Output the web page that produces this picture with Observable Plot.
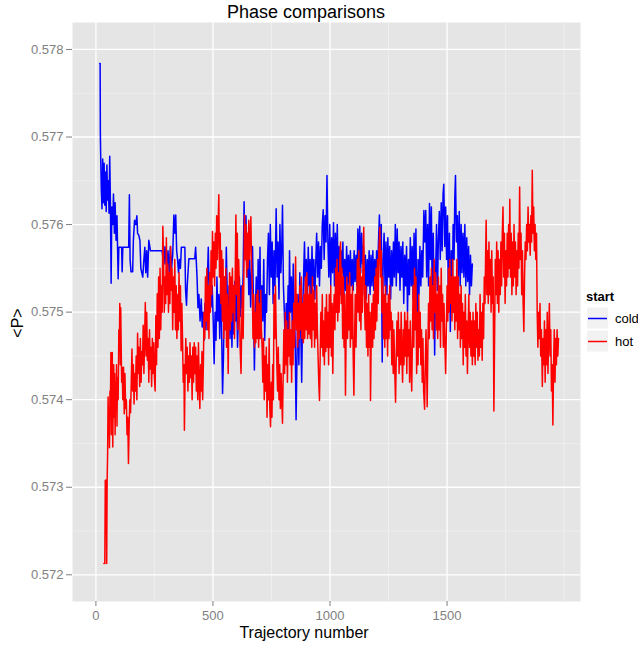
<!DOCTYPE html>
<html><head><meta charset="utf-8">
<script src="https://cdn.jsdelivr.net/npm/d3@7"></script>
<script src="https://cdn.jsdelivr.net/npm/@observablehq/plot@0.6"></script>
<style>body{margin:0;background:#fff} svg{display:block}</style>
</head><body><div id="chart"></div>
<script>
// [trajectory number, <P>] for the "cold" start
const coldPts = [
[16,.57784],[18,.57784],[19,.57704],[20,.57685],[23,.57640],[26,.57618],[29,.57675],[32,.57625],[35,.57670],[38,.57622],
[41,.57660],[44,.57615],[47,.57668],[50,.57628],[53,.57650],[56,.57613],[59,.57678],[62,.57625],[65,.57533],[68,.57620],
[72,.57600],[75,.57635],[79,.57590],[82,.57625],[86,.57582],[90,.57610],[95,.57538],[98,.57574],[110,.57574],[112,.57546],
[115,.57574],[140,.57574],[143,.57634],[146,.57560],[150,.57546],[157,.57546],[160,.57582],[165,.57605],[170,.57600],[175,.57610],
[178,.57590],[183,.57588],[188,.57582],[192,.57550],[196,.57545],[200,.57540],[205,.57560],[209,.57574],[213,.57545],[217,.57570],
[221,.57540],[226,.57582],[233,.57570],[283,.57570],[287,.57560],[291,.57575],[295,.57555],[299,.57574],[304,.57555],[308,.57570],
[313,.57545],[318,.57575],[323,.57550],[328,.57565],[333,.57611],[337,.57590],[341,.57611],[345,.57570],[349,.57560],[353,.57545],
[357,.57560],[361,.57550],[365,.57574],[380,.57574],[383,.57525],[387,.57508],[390,.57530],[397,.57561],[422,.57561],[426,.57574],
[432,.57540],[436,.57505],[440,.57520],[445,.57490],[450,.57515],[454,.57483],[458,.57500],[462,.57468],[466,.57510],[470,.57480],
[475,.57525],[480,.57574],[484,.57520],[488,.57545],[492,.57506],[497,.57530],[501,.57490],[505,.57441],[509,.57500],[513,.57468],
[517,.57540],[521,.57490],[525,.57520],[529,.57470],[533,.57535],[537,.57480],[541,.57407],[545,.57450],[549,.57540],[553,.57500],
[557,.57574],[561,.57520],[565,.57487],[569,.57530],[573,.57470],[577,.57525],[581,.57460],[585,.57510],[589,.57475],[593,.57535],
[597,.57490],[601,.57520],[605,.57460],[609,.57500],[613,.57540],[617,.57495],[621,.57530],[625,.57505],[629,.57545],[633,.57626],
[637,.57560],[641,.57610],[645,.57540],[649,.57580],[653,.57520],[657,.57560],[661,.57506],[665,.57545],[669,.57575],[673,.57510],
[677,.57434],[681,.57500],[685,.57540],[689,.57480],[693,.57560],[697,.57500],[701,.57574],[705,.57470],[709,.57530],[713,.57490],
[717,.57560],[721,.57468],[725,.57520],[729,.57500],[733,.57560],[737,.57590],[741,.57520],[745,.57600],[749,.57540],[753,.57580],
[757,.57510],[761,.57570],[765,.57530],[770,.57618],[774,.57540],[778,.57580],[782,.57515],[786,.57600],[790,.57545],[794,.57575],
[797,.57622],[801,.57530],[805,.57500],[809,.57460],[813,.57510],[817,.57480],[821,.57530],[824,.57470],[827,.57570],[831,.57500],
[835,.57540],[839,.57480],[843,.57555],[847,.57500],[851,.57470],[855,.57377],[859,.57450],[863,.57520],[867,.57440],[871,.57545],
[875,.57480],[879,.57420],[883,.57500],[887,.57540],[891,.57580],[895,.57520],[899,.57560],[903,.57510],[907,.57574],[911,.57530],
[915,.57560],[919,.57510],[923,.57575],[927,.57530],[931,.57560],[935,.57515],[939,.57555],[943,.57590],[947,.57540],[951,.57580],
[955,.57530],[959,.57575],[963,.57550],[967,.57600],[971,.57617],[975,.57560],[979,.57610],[983,.57580],[987,.57656],[991,.57580],
[995,.57540],[999,.57600],[1003,.57530],[1007,.57585],[1011,.57545],[1015,.57602],[1019,.57530],[1023,.57590],[1027,.57540],[1031,.57600],
[1035,.57530],[1039,.57575],[1043,.57520],[1047,.57570],[1051,.57545],[1055,.57580],[1059,.57515],[1063,.57560],[1067,.57525],[1071,.57575],
[1075,.57530],[1079,.57565],[1083,.57525],[1087,.57570],[1091,.57530],[1095,.57560],[1099,.57525],[1103,.57570],[1107,.57535],[1111,.57565],
[1115,.57530],[1119,.57595],[1123,.57550],[1127,.57598],[1131,.57545],[1135,.57590],[1139,.57555],[1143,.57575],[1147,.57520],[1151,.57565],
[1155,.57515],[1159,.57560],[1163,.57530],[1167,.57570],[1171,.57520],[1175,.57565],[1179,.57530],[1183,.57570],[1187,.57525],[1191,.57560],
[1195,.57530],[1199,.57570],[1203,.57540],[1207,.57580],[1211,.57611],[1215,.57560],[1219,.57600],[1223,.57443],[1227,.57560],[1231,.57590],
[1235,.57530],[1239,.57580],[1243,.57520],[1247,.57585],[1251,.57540],[1255,.57575],[1259,.57515],[1263,.57570],[1267,.57530],[1271,.57580],
[1275,.57540],[1279,.57600],[1283,.57530],[1287,.57595],[1291,.57545],[1295,.57580],[1299,.57525],[1303,.57575],[1307,.57540],[1311,.57580],
[1315,.57510],[1319,.57565],[1323,.57530],[1327,.57575],[1331,.57500],[1335,.57560],[1339,.57520],[1343,.57585],[1347,.57530],[1351,.57575],
[1355,.57515],[1359,.57590],[1363,.57540],[1367,.57595],[1372,.57453],[1376,.57560],[1380,.57520],[1384,.57575],[1388,.57530],[1392,.57570],
[1396,.57540],[1401,.57616],[1405,.57580],[1409,.57616],[1413,.57540],[1417,.57600],[1421,.57530],[1425,.57624],[1429,.57560],[1433,.57620],
[1437,.57505],[1441,.57590],[1444,.57530],[1447,.57451],[1451,.57540],[1455,.57600],[1459,.57525],[1463,.57585],[1467,.57615],[1471,.57560],
[1475,.57625],[1479,.57570],[1483,.57635],[1486,.57646],[1490,.57575],[1494,.57620],[1498,.57560],[1502,.57610],[1506,.57500],[1510,.57590],
[1514,.57478],[1518,.57570],[1522,.57520],[1526,.57600],[1530,.57560],[1533,.57630],[1536,.57656],[1540,.57580],[1544,.57610],[1548,.57540],
[1552,.57615],[1556,.57530],[1560,.57600],[1564,.57545],[1568,.57590],[1572,.57540],[1576,.57600],[1580,.57530],[1584,.57585],[1588,.57535],
[1592,.57575],[1596,.57520],[1600,.57565],[1604,.57530],[1608,.57555]
];
// [trajectory number, <P>] for the "hot" start
const hotPts = [
[34,.57213],[38,.57213],[40,.57308],[44,.57308],[46,.57213],[48,.57308],[50,.57338],[52,.57403],[54,.57369],[56,.57380],
[58,.57345],[60,.57410],[62,.57390],[64,.57454],[66,.57360],[68,.57420],[70,.57454],[72,.57346],[74,.57400],[76,.57440],
[78,.57380],[80,.57430],[82,.57360],[84,.57420],[86,.57395],[88,.57440],[90,.57370],[92,.57425],[95,.57400],[98,.57480],
[100,.57455],[102,.57510],[104,.57440],[106,.57505],[108,.57460],[110,.57420],[112,.57437],[115,.57400],[118,.57437],[121,.57384],
[124,.57430],[127,.57390],[130,.57400],[133,.57360],[136,.57380],[139,.57327],[142,.57370],[145,.57400],[148,.57385],[151,.57420],
[154,.57458],[157,.57410],[160,.57440],[163,.57395],[166,.57430],[169,.57410],[172,.57450],[175,.57400],[178,.57476],[181,.57430],
[184,.57460],[187,.57415],[190,.57470],[193,.57420],[196,.57455],[199,.57440],[202,.57485],[205,.57430],[208,.57470],[211,.57511],
[214,.57450],[217,.57500],[220,.57445],[223,.57470],[226,.57420],[229,.57480],[232,.57435],[235,.57460],[238,.57415],[241,.57470],
[244,.57430],[247,.57465],[250,.57425],[253,.57410],[256,.57496],[259,.57440],[262,.57521],[265,.57460],[268,.57540],[271,.57470],
[274,.57550],[277,.57480],[280,.57530],[283,.57500],[286,.57598],[289,.57560],[292,.57500],[295,.57540],[298,.57510],[301,.57585],
[304,.57520],[307,.57555],[310,.57500],[313,.57545],[316,.57510],[319,.57575],[322,.57525],[325,.57550],[328,.57480],[331,.57540],
[334,.57500],[337,.57560],[340,.57480],[343,.57530],[346,.57470],[349,.57520],[352,.57480],[355,.57545],[358,.57490],[361,.57530],
[364,.57456],[367,.57510],[370,.57470],[373,.57420],[376,.57440],[378,.57365],[381,.57430],[384,.57470],[387,.57430],[390,.57460],
[393,.57410],[396,.57450],[399,.57420],[402,.57465],[405,.57425],[408,.57450],[411,.57400],[414,.57460],[417,.57420],[420,.57465],
[423,.57430],[426,.57460],[429,.57410],[432,.57450],[435,.57400],[438,.57465],[441,.57420],[444,.57390],[447,.57440],[450,.57410],
[453,.57455],[456,.57400],[459,.57440],[462,.57500],[465,.57470],[468,.57540],[471,.57490],[474,.57550],[477,.57480],[480,.57530],
[483,.57470],[486,.57545],[489,.57500],[492,.57570],[495,.57520],[498,.57592],[501,.57540],[504,.57580],[507,.57530],[510,.57590],
[513,.57550],[516,.57610],[519,.57560],[522,.57600],[525,.57634],[528,.57540],[531,.57590],[534,.57510],[537,.57570],[540,.57490],
[543,.57560],[546,.57470],[549,.57540],[552,.57480],[555,.57550],[558,.57460],[561,.57520],[565,.57430],[568,.57500],[571,.57545],
[574,.57480],[577,.57540],[580,.57490],[583,.57550],[586,.57500],[589,.57530],[592,.57470],[595,.57540],[598,.57611],[601,.57520],
[604,.57590],[607,.57480],[610,.57560],[613,.57520],[616,.57460],[620,.57430],[623,.57490],[626,.57530],[629,.57470],[632,.57540],
[635,.57611],[638,.57560],[641,.57600],[644,.57540],[647,.57590],[650,.57550],[653,.57605],[656,.57560],[659,.57590],[662,.57609],
[665,.57550],[668,.57530],[671,.57470],[674,.57520],[677,.57460],[680,.57500],[683,.57465],[686,.57520],[689,.57470],[692,.57525],
[695,.57460],[698,.57510],[701,.57470],[704,.57525],[707,.57480],[710,.57460],[713,.57420],[716,.57470],[719,.57400],[722,.57450],
[725,.57410],[728,.57460],[731,.57380],[734,.57440],[737,.57400],[740,.57470],[743,.57390],[746,.57369],[749,.57420],[752,.57380],
[755,.57440],[758,.57400],[761,.57520],[764,.57470],[767,.57530],[770,.57480],[773,.57440],[776,.57410],[779,.57460],[782,.57400],
[785,.57440],[788,.57390],[791,.57430],[794,.57400],[797,.57373],[800,.57430],[803,.57480],[806,.57430],[809,.57500],[812,.57440],
[815,.57490],[818,.57420],[821,.57480],[824,.57450],[827,.57500],[830,.57440],[833,.57480],[836,.57420],[839,.57490],[842,.57440],
[845,.57510],[848,.57460],[851,.57530],[853,.57563],[856,.57480],[859,.57520],[862,.57460],[865,.57510],[868,.57470],[871,.57530],
[874,.57480],[877,.57540],[880,.57470],[883,.57510],[886,.57465],[889,.57520],[892,.57470],[895,.57540],[898,.57480],[901,.57545],
[904,.57470],[907,.57520],[910,.57475],[913,.57530],[916,.57470],[919,.57520],[922,.57460],[925,.57540],[928,.57480],[931,.57525],
[934,.57460],[937,.57510],[940,.57470],[943,.57530],[946,.57480],[949,.57450],[952,.57420],[955,.57399],[958,.57450],[961,.57500],
[964,.57460],[967,.57520],[970,.57450],[973,.57490],[976,.57440],[979,.57505],[982,.57455],[985,.57520],[988,.57460],[991,.57500],
[994,.57440],[997,.57520],[1000,.57460],[1003,.57530],[1006,.57450],[1009,.57510],[1012,.57430],[1015,.57500],[1018,.57520],[1021,.57480],
[1024,.57550],[1027,.57500],[1030,.57560],[1033,.57490],[1036,.57545],[1039,.57500],[1042,.57560],[1045,.57580],[1048,.57510],[1051,.57550],
[1054,.57470],[1057,.57540],[1060,.57460],[1063,.57520],[1066,.57405],[1069,.57480],[1072,.57540],[1075,.57470],[1078,.57530],[1081,.57480],
[1084,.57545],[1087,.57460],[1090,.57520],[1093,.57470],[1096,.57530],[1099,.57450],[1102,.57405],[1105,.57470],[1108,.57520],[1111,.57460],
[1114,.57510],[1117,.57560],[1120,.57500],[1123,.57570],[1126,.57490],[1129,.57550],[1132,.57480],[1135,.57540],[1138,.57500],[1141,.57560],
[1144,.57597],[1147,.57520],[1150,.57480],[1153,.57530],[1156,.57460],[1159,.57510],[1162,.57450],[1165,.57520],[1168,.57460],[1171,.57500],
[1173,.57399],[1176,.57470],[1179,.57510],[1182,.57460],[1185,.57520],[1188,.57470],[1191,.57540],[1194,.57480],[1197,.57550],[1200,.57490],
[1203,.57560],[1206,.57510],[1209,.57570],[1213,.57597],[1216,.57540],[1219,.57570],[1222,.57500],[1225,.57540],[1228,.57470],[1231,.57520],
[1234,.57460],[1237,.57530],[1240,.57470],[1243,.57510],[1246,.57450],[1249,.57520],[1252,.57470],[1255,.57530],[1258,.57480],[1261,.57500],
[1264,.57440],[1267,.57490],[1270,.57430],[1273,.57480],[1276,.57440],[1280,.57397],[1283,.57450],[1286,.57490],[1289,.57450],[1292,.57500],
[1295,.57430],[1298,.57480],[1301,.57440],[1304,.57500],[1307,.57450],[1310,.57420],[1313,.57480],[1316,.57440],[1319,.57500],[1322,.57450],
[1325,.57490],[1328,.57430],[1331,.57500],[1334,.57450],[1337,.57480],[1340,.57420],[1343,.57490],[1346,.57440],[1349,.57410],[1352,.57470],
[1355,.57530],[1358,.57460],[1361,.57550],[1364,.57480],[1367,.57540],[1370,.57430],[1373,.57500],[1376,.57440],[1379,.57520],[1382,.57460],
[1385,.57500],[1388,.57440],[1391,.57480],[1394,.57420],[1397,.57470],[1400,.57410],[1404,.57389],[1407,.57440],[1410,.57480],[1413,.57430],
[1415,.57392],[1418,.57460],[1421,.57510],[1424,.57470],[1427,.57540],[1430,.57490],[1433,.57550],[1436,.57480],[1439,.57530],[1442,.57470],
[1445,.57560],[1448,.57500],[1451,.57545],[1454,.57480],[1457,.57520],[1460,.57470],[1463,.57540],[1466,.57480],[1469,.57530],[1472,.57460],
[1475,.57550],[1478,.57490],[1481,.57520],[1484,.57460],[1487,.57510],[1490,.57470],[1494,.57430],[1497,.57480],[1500,.57530],[1503,.57490],
[1506,.57550],[1509,.57500],[1512,.57560],[1515,.57510],[1518,.57540],[1521,.57490],[1524,.57560],[1527,.57500],[1530,.57540],[1533,.57480],
[1536,.57540],[1539,.57490],[1542,.57560],[1545,.57470],[1548,.57540],[1551,.57480],[1554,.57520],[1557,.57460],[1560,.57530],[1563,.57470],
[1566,.57510],[1569,.57440],[1572,.57500],[1575,.57460],[1578,.57520],[1581,.57450],[1584,.57490],[1587,.57430],[1590,.57480],[1593,.57520],
[1596,.57460],[1599,.57500],[1602,.57450],[1605,.57490],[1608,.57440],[1611,.57500],[1614,.57450],[1617,.57490],[1620,.57440],[1623,.57510],
[1626,.57460],[1629,.57500],[1632,.57445],[1635,.57480],[1638,.57450],[1641,.57520],[1644,.57460],[1647,.57500],[1650,.57445],[1653,.57510],
[1656,.57470],[1659,.57540],[1662,.57510],[1665,.57570],[1667,.57605],[1670,.57520],[1673,.57570],[1676,.57510],[1679,.57580],[1682,.57520],
[1685,.57560],[1688,.57500],[1691,.57570],[1694,.57510],[1697,.57540],[1700,.57387],[1703,.57470],[1706,.57560],[1709,.57520],[1712,.57580],
[1715,.57510],[1718,.57570],[1721,.57500],[1724,.57560],[1727,.57520],[1730,.57580],[1733,.57530],[1736,.57590],[1739,.57620],[1742,.57540],
[1745,.57590],[1748,.57510],[1751,.57570],[1754,.57530],[1757,.57590],[1760,.57540],[1763,.57600],[1766,.57550],[1768,.57629],[1771,.57540],
[1774,.57590],[1777,.57520],[1780,.57580],[1783,.57530],[1786,.57600],[1789,.57540],[1792,.57580],[1795,.57520],[1798,.57570],[1801,.57530],
[1804,.57590],[1807,.57550],[1810,.57643],[1813,.57560],[1816,.57590],[1819,.57520],[1822,.57570],[1825,.57510],[1828,.57478],[1831,.57540],
[1834,.57580],[1837,.57560],[1840,.57600],[1843,.57570],[1846,.57620],[1849,.57580],[1852,.57600],[1855,.57565],[1858,.57610],[1861,.57580],
[1864,.57662],[1867,.57590],[1870,.57620],[1873,.57570],[1876,.57600],[1879,.57560],[1882,.57590],[1885,.57500],[1888,.57460],[1891,.57500],
[1894,.57470],[1897,.57510],[1900,.57450],[1903,.57480],[1907,.57415],[1910,.57470],[1913,.57440],[1916,.57490],[1919,.57420],[1922,.57480],
[1925,.57440],[1928,.57500],[1931,.57430],[1934,.57470],[1937,.57510],[1940,.57450],[1943,.57480],[1946,.57410],[1949,.57440],[1952,.57371],
[1955,.57440],[1958,.57480],[1961,.57420],[1964,.57470],[1967,.57440],[1970,.57480],[1973,.57450],[1976,.57470]
];
const seriesNames = ["cold", "hot"];
const seriesColors = ["#0000FF", "#FF0000"];
const xMajor = [0, 500, 1000, 1500];
const xMinor = [250, 750, 1250, 1750, 2000];
const yMajor = [0.572, 0.573, 0.574, 0.575, 0.576, 0.577, 0.578];
const yMinor = [0.5725, 0.5735, 0.5745, 0.5755, 0.5765, 0.5775];
const titleText = "Phase comparisons";
const xTitle = "Trajectory number";
const yTitle = "<P>";
const legendTitle = "start";

const rows = [
  ...coldPts.map(([t, p]) => ({t, p, start: seriesNames[0]})),
  ...hotPts.map(([t, p]) => ({t, p, start: seriesNames[1]}))
];

const FONT = "'Liberation Sans', Arial, Helvetica, sans-serif";
const svg = Plot.plot({
  width: 638, height: 646,
  marginLeft: 72, marginRight: 58, marginTop: 22, marginBottom: 45,
  style: {fontFamily: FONT, background: "#fff"},
  x: {domain: [-100, 2070]},
  y: {domain: [0.571695, 0.578308]},
  color: {domain: seriesNames, range: seriesColors},
  marks: [
    Plot.frame({fill: "#E5E5E5", stroke: "none"}),
    Plot.gridX(xMinor, {stroke: "#F2F2F2", strokeOpacity: 1, strokeWidth: 0.7}),
    Plot.gridY(yMinor, {stroke: "#F2F2F2", strokeOpacity: 1, strokeWidth: 0.7}),
    Plot.gridX(xMajor, {stroke: "#FFFFFF", strokeOpacity: 1, strokeWidth: 1.3}),
    Plot.gridY(yMajor, {stroke: "#FFFFFF", strokeOpacity: 1, strokeWidth: 1.3}),
    Plot.line(rows, {x: "t", y: "p", z: "start", stroke: "start", strokeWidth: 1.5, clip: true}),
    Plot.axisX(xMajor, {tickSize: 5, tickPadding: 4, fontSize: 13, color: "#7F7F7F", label: null, tickFormat: d => String(d)}),
    Plot.axisY(yMajor, {tickSize: 6, tickPadding: 3, fontSize: 13, color: "#7F7F7F", label: null, tickFormat: d3.format(".3f")})
  ]
});

const s = d3.select(svg);
s.append("text").attr("x", 306).attr("y", 17.5).attr("text-anchor", "middle")
  .attr("font-size", 18).attr("font-family", FONT).attr("fill", "#000").text(titleText);
s.append("text").attr("x", 304).attr("y", 638).attr("text-anchor", "middle")
  .attr("font-size", 16).attr("font-family", FONT).attr("fill", "#000").text(xTitle);
s.append("text").attr("transform", "translate(23,323) rotate(-90)").attr("text-anchor", "middle")
  .attr("font-size", 16).attr("font-family", FONT).attr("fill", "#000").text(yTitle);

const lg = s.append("g").attr("font-family", FONT).attr("text-anchor", "start");
lg.append("text").attr("x", 586).attr("y", 301).attr("text-anchor", "start").attr("font-size", 13)
  .attr("font-weight", "bold").attr("fill", "#000").text(legendTitle);
seriesNames.forEach((name, i) => {
  const y0 = 307 + i * 23;
  lg.append("rect").attr("x", 586.5).attr("y", y0).attr("width", 22).attr("height", 22)
    .attr("fill", "#F2F2F2").attr("stroke", "#fff").attr("stroke-width", 1);
  lg.append("line").attr("x1", 588).attr("x2", 607).attr("y1", y0 + 11.5).attr("y2", y0 + 11.5)
    .attr("stroke", seriesColors[i]).attr("stroke-width", 1.5);
  lg.append("text").attr("x", 615).attr("y", y0 + 16).attr("text-anchor", "start").attr("font-size", 13)
    .attr("fill", "#000").text(name);
});

document.getElementById("chart").appendChild(svg);
</script>
</body></html>
